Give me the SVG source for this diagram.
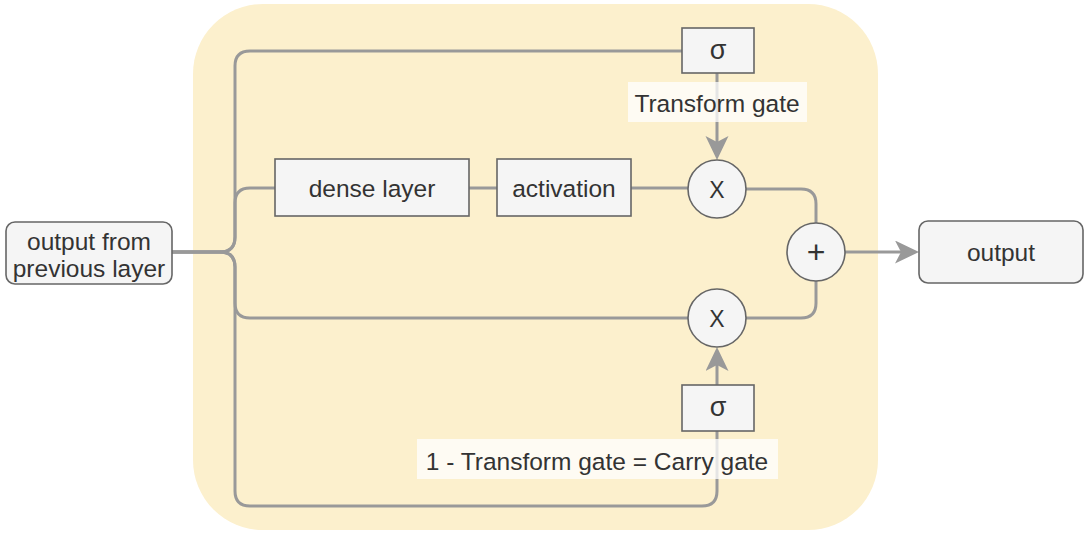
<svg xmlns="http://www.w3.org/2000/svg" width="1085" height="534" viewBox="0 0 1085 534">
<style>
.t{font-family:"Liberation Sans",Arial,Helvetica,sans-serif;font-size:24.5px;fill:#333;text-anchor:middle}
.sig{font-family:"Liberation Sans","DejaVu Sans",sans-serif;font-size:27px;fill:#333;text-anchor:middle}
.op{font-family:"Liberation Sans",Arial,sans-serif;font-size:23px;fill:#333;text-anchor:middle}
.pl{font-family:"Liberation Sans",Arial,sans-serif;font-size:32px;fill:#333;text-anchor:middle}
.box{fill:#f5f5f5;stroke:#666;stroke-width:1.6}
.c{fill:none;stroke:#999;stroke-width:3}
.lbl{fill:#fff;fill-opacity:0.75}
</style>
<defs>
<marker id="arr" markerUnits="userSpaceOnUse" markerWidth="26" markerHeight="24" refX="14" refY="11.5" orient="auto" viewBox="0 0 26 24">
<path d="M0,0 L24,11.5 L0,23 L6,11.5 z" fill="#999"/>
</marker>
</defs>
<rect id="container" x="193" y="4" width="685" height="526" rx="70" ry="70" fill="#fcf0cd"/>
<g id="connectors">
<path class="c" d="M172,252 H220 Q235,252 235,237 V66 Q235,51 250,51 H682"/>
<path class="c" d="M172,252 H220 Q235,252 235,237 V203 Q235,188 250,188 H275"/>
<path class="c" d="M172,252 H220 Q235,252 235,267 V303 Q235,318 250,318 H688"/>
<path class="c" d="M172,252 H220 Q235,252 235,267 V491 Q235,506 250,506 H702 Q717,506 717,491 V431"/>
<path class="c" d="M469,188 H497"/>
<path class="c" d="M631,188 H688"/>
<path class="c" d="M717,73 V150" marker-end="url(#arr)"/>
<path class="c" d="M717,385 V357" marker-end="url(#arr)"/>
<path class="c" d="M746,189 H801 Q816,189 816,204 V223"/>
<path class="c" d="M746,318 H801 Q816,318 816,303 V281"/>
<path class="c" d="M845,252 H909" marker-end="url(#arr)"/>
</g>
<g id="label-transform">
<rect class="lbl" x="628" y="82" width="179" height="40"/>
<text class="t" x="717" y="112">Transform gate</text>
</g>
<g id="label-carry">
<rect class="lbl" x="417" y="439" width="361" height="40"/>
<text class="t" x="597" y="470">1 - Transform gate = Carry gate</text>
</g>
<g id="input">
<rect class="box" x="6" y="222" width="166" height="62" rx="9" ry="9"/>
<text class="t" x="89" y="250">output from</text>
<text class="t" x="89" y="277">previous layer</text>
</g>
<g id="sigma-top">
<rect class="box" x="682" y="28" width="72" height="45"/>
<text class="sig" x="718" y="59">σ</text>
</g>
<g id="dense">
<rect class="box" x="275" y="159" width="194" height="57"/>
<text class="t" x="372" y="197">dense layer</text>
</g>
<g id="activation">
<rect class="box" x="497" y="159" width="134" height="57"/>
<text class="t" x="564" y="197">activation</text>
</g>
<g id="mult-top">
<circle class="box" cx="717" cy="189" r="29"/>
<text class="op" x="717" y="198">X</text>
</g>
<g id="mult-bottom">
<circle class="box" cx="717" cy="318" r="29"/>
<text class="op" x="717" y="327">X</text>
</g>
<g id="plus">
<circle class="box" cx="816" cy="252" r="29"/>
<text class="pl" x="816" y="263">+</text>
</g>
<g id="sigma-bottom">
<rect class="box" x="682" y="385" width="72" height="46"/>
<text class="sig" x="718" y="416">σ</text>
</g>
<g id="output">
<rect class="box" x="919" y="221" width="164" height="62" rx="9" ry="9"/>
<text class="t" x="1001" y="261">output</text>
</g>
</svg>
